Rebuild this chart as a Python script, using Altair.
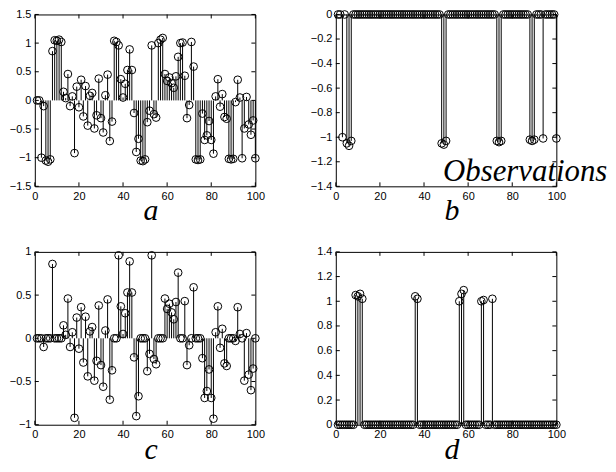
import altair as alt
import pandas as pd

idx = list(range(1, 101))

a_vals = [
    0.00, 0.00, -1.00, -0.10, -1.05, -1.07, -1.03, 0.86, 1.05, 1.04,
    1.06, 1.02, 0.15, 0.04, 0.46, -0.10, 0.07, -0.92, 0.24, -0.12,
    0.36, -0.28, 0.25, -0.44, 0.08, 0.13, -0.49, -0.26, 0.38, -0.31,
    -0.56, 0.09, 0.45, -0.71, -0.37, 1.04, 1.02, 0.96, 0.37, 0.05,
    0.29, 0.53, 0.89, 0.53, -0.22, -0.90, -0.67, -1.05, -1.06, -1.03,
    -0.38, -0.18, 0.96, -0.24, -0.30, 1.00, 1.06, 1.09, 0.46, 0.34,
    0.40, 0.30, 0.22, 0.42, 0.76, 1.00, 1.01, 0.43, -0.31, -0.08,
    1.02, 0.59, -1.03, -1.04, -1.03, -0.23, -0.69, -0.61, -0.36, -0.69,
    -0.93, 0.07, 0.37, -0.11, 0.11, -0.29, -0.32, -1.02, -1.03, -1.02,
    -0.03, 0.36, 0.05, -1.01, -0.49, 0.06, -0.42, -0.60, -0.35, -1.01,
]

b_vals = [
    0, 0, -1.00, 0, -1.05, -1.07, -1.03, 0, 0, 0,
    0, 0, 0, 0, 0, 0, 0, 0, 0, 0,
    0, 0, 0, 0, 0, 0, 0, 0, 0, 0,
    0, 0, 0, 0, 0, 0, 0, 0, 0, 0,
    0, 0, 0, 0, 0, 0, 0, -1.05, -1.06, -1.03,
    0, 0, 0, 0, 0, 0, 0, 0, 0, 0,
    0, 0, 0, 0, 0, 0, 0, 0, 0, 0,
    0, 0, -1.03, -1.04, -1.03, 0, 0, 0, 0, 0,
    0, 0, 0, 0, 0, 0, 0, -1.02, -1.03, -1.02,
    0, 0, 0, -1.01, 0, 0, 0, 0, 0, -1.01,
]

c_vals = [
    0.00, 0.00, 0.00, -0.10, 0.00, 0.00, 0.00, 0.86, 0.00, 0.00,
    0.00, 0.00, 0.15, 0.04, 0.46, -0.10, 0.07, -0.92, 0.24, -0.12,
    0.36, -0.28, 0.25, -0.44, 0.08, 0.13, -0.49, -0.26, 0.38, -0.31,
    -0.56, 0.09, 0.45, -0.71, -0.37, 0.00, 0.00, 0.96, 0.37, 0.05,
    0.29, 0.53, 0.89, 0.53, -0.22, -0.90, -0.67, 0.00, 0.00, 0.00,
    -0.38, -0.18, 0.96, -0.24, -0.30, 0.00, 0.00, 0.00, 0.46, 0.34,
    0.40, 0.30, 0.22, 0.42, 0.76, 0.00, 0.00, 0.43, -0.31, -0.08,
    0.00, 0.59, 0.00, 0.00, 0.00, -0.23, -0.69, -0.61, -0.36, -0.69,
    -0.93, 0.07, 0.37, -0.11, 0.11, -0.29, -0.32, 0.00, 0.00, 0.00,
    -0.03, 0.36, 0.05, 0.00, -0.49, 0.06, -0.42, -0.60, -0.35, 0.00,
]

d_vals = [
    0, 0, 0, 0, 0, 0, 0, 0, 1.05, 1.04,
    1.06, 1.02, 0, 0, 0, 0, 0, 0, 0, 0,
    0, 0, 0, 0, 0, 0, 0, 0, 0, 0,
    0, 0, 0, 0, 0, 1.04, 1.02, 0, 0, 0,
    0, 0, 0, 0, 0, 0, 0, 0, 0, 0,
    0, 0, 0, 0, 0, 1.00, 1.06, 1.09, 0, 0,
    0, 0, 0, 0, 0, 1.00, 1.01, 0, 0, 0,
    1.02, 0, 0, 0, 0, 0, 0, 0, 0, 0,
    0, 0, 0, 0, 0, 0, 0, 0, 0, 0,
    0, 0, 0, 0, 0, 0, 0, 0, 0, 0,
]

x_ticks = [0, 20, 40, 60, 80, 100]
a_ticks = [-1.5, -1, -0.5, 0, 0.5, 1, 1.5]
b_ticks = [-1.4, -1.2, -1, -0.8, -0.6, -0.4, -0.2, 0]
c_ticks = [-1, -0.5, 0, 0.5, 1]
d_ticks = [0, 0.2, 0.4, 0.6, 0.8, 1, 1.2, 1.4]

W = 222
H1 = 173
H2 = 174


def panel(vals, ydom, yticks, label, H, extra_text=None):
    df = pd.DataFrame({"x": idx, "y": vals, "z": [0] * len(idx)})
    xs = alt.Scale(domain=[0, 100], nice=False, zero=False, padding=0)
    ys = alt.Scale(domain=ydom, nice=False, zero=False, padding=0)
    xax = alt.Axis(values=x_ticks, format=".1~f", title=None,
                   labelOverlap=False, labelFlush=False)
    yax = alt.Axis(values=yticks, format=".1~f", title=None,
                   labelOverlap=False, labelFlush=False)
    X = alt.X("x:Q", scale=xs, axis=xax)
    Y = alt.Y("y:Q", scale=ys, axis=yax)
    base = alt.Chart(df)
    stems = base.mark_rule(color="black", strokeWidth=1).encode(
        x=X, y=Y, y2="z:Q",
    )
    pts = base.mark_point(
        shape="circle", filled=False, color="black", size=60,
        strokeWidth=1, opacity=1
    ).encode(x=X, y=Y)
    xt = pd.DataFrame({"x": x_ticks})
    yt = pd.DataFrame({"y": yticks})
    tb = alt.Chart(xt).mark_rule(color="black").encode(
        x=X, y=alt.value(H), y2=alt.value(H - 4))
    tt = alt.Chart(xt).mark_rule(color="black").encode(
        x=X, y=alt.value(0), y2=alt.value(4))
    tl = alt.Chart(yt).mark_rule(color="black").encode(
        y=Y, x=alt.value(0), x2=alt.value(4))
    tr = alt.Chart(yt).mark_rule(color="black").encode(
        y=Y, x=alt.value(W), x2=alt.value(W - 4))
    lab = alt.Chart(pd.DataFrame({"t": [label]})).mark_text(
        font="Liberation Serif", fontStyle="italic", fontSize=30,
        baseline="alphabetic", align="center", color="black"
    ).encode(text="t:N", x=alt.value(117), y=alt.value(H + 34))
    layers = [stems, pts, tb, tt, tl, tr, lab]
    if extra_text is not None:
        obs = alt.Chart(pd.DataFrame({"t": [extra_text]})).mark_text(
            font="Liberation Serif", fontStyle="italic", fontSize=31,
            baseline="alphabetic", align="left", color="black"
        ).encode(text="t:N", x=alt.value(108), y=alt.value(168))
        layers.append(obs)
    return alt.layer(*layers).properties(width=W, height=H)


pa = panel(a_vals, [-1.5, 1.5], a_ticks, "a", H1)
pb = panel(b_vals, [-1.4, 0], b_ticks, "b", H1, extra_text="Observations")
pc = panel(c_vals, [-1, 1], c_ticks, "c", H2)
pd_ = panel(d_vals, [0, 1.4], d_ticks, "d", H2)

chart = alt.concat(
    pa, pb, pc, pd_, columns=2,
    spacing={"row": 66, "column": 81}, bounds="flush",
).properties(
    padding={"left": 0, "top": -2, "right": 0, "bottom": -6},
    background="white",
).configure_view(
    stroke="black", strokeWidth=1
).configure_axis(
    grid=False, ticks=False, domain=False, labelOverlap=False,
    labelFlush=False,
    labelFont="Liberation Sans", labelFontSize=11, labelColor="black",
    labelPadding=4,
)

chart.save("out.html", embed_options={"renderer": "svg", "actions": False})
